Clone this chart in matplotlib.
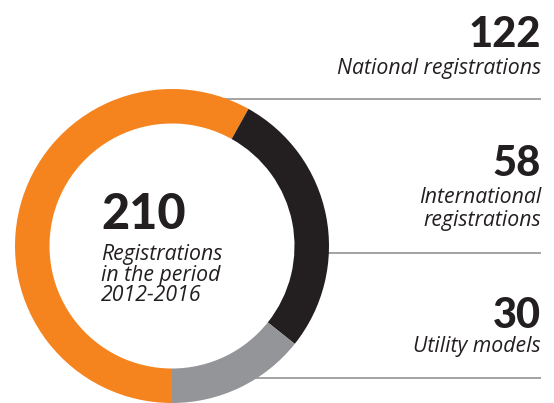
import matplotlib
matplotlib.use("Agg")
import matplotlib.pyplot as plt
from matplotlib.patches import Circle

# Registration counts, 2012-2016
categories = ["National registrations", "International registrations", "Utility models"]
values = [122, 58, 30]
total = sum(values)
colors = ["#F5841F", "#231F20", "#939598"]

W, H = 554, 403
fig = plt.figure(figsize=(W / 100, H / 100), dpi=100)
ax = fig.add_axes([0, 0, 1, 1])

cx, cy, r_out, r_in = 172, 157, 157, 122.5

# separator rules on the right, partly hidden behind the ring
for y in (304, 150, 25):
    ax.plot([cx, 541], [y, y], color="#8a8a8a", lw=1.1, zorder=1, solid_capstyle="butt")
ax.add_patch(Circle((cx, cy), r_in, facecolor="white", edgecolor="none", zorder=1.5))

ax.pie(values, colors=colors, startangle=-90, counterclock=False,
       center=(cx, cy), radius=r_out, frame=True,
       wedgeprops=dict(width=r_out - r_in, linewidth=0, zorder=2))
ax.set_xlim(0, W)
ax.set_ylim(0, H)
ax.set_aspect("equal")
ax.axis("off")

num_font = dict(family="Lato", weight="black", color="#231F20")
lab_font = dict(family="Open Sans", style="italic", color="#231F20")
lab_size = 15.3

# centre label
ax.text(101, 174, str(total), fontsize=35, ha="left", va="baseline", zorder=3, **num_font)
for i, line in enumerate(["Registrations", "in the period", "2012-2016"]):
    ax.text(101, 143 - 20.5 * i, line, fontsize=lab_size, ha="left", va="baseline", zorder=3, **lab_font)

# right-hand labels
xr = 541
ax.text(xr, 356, str(values[0]), fontsize=30, ha="right", va="baseline", **num_font)
ax.text(xr, 329, "National registrations", fontsize=lab_size, ha="right", va="baseline", **lab_font)

ax.text(xr, 227, str(values[1]), fontsize=30, ha="right", va="baseline", **num_font)
ax.text(xr, 200, "International", fontsize=lab_size, ha="right", va="baseline", **lab_font)
ax.text(xr, 177, "registrations", fontsize=lab_size, ha="right", va="baseline", **lab_font)

ax.text(xr, 75, str(values[2]), fontsize=30, ha="right", va="baseline", **num_font)
ax.text(xr, 51, "Utility models", fontsize=lab_size, ha="right", va="baseline", **lab_font)

fig.savefig("out.png", dpi=100)
